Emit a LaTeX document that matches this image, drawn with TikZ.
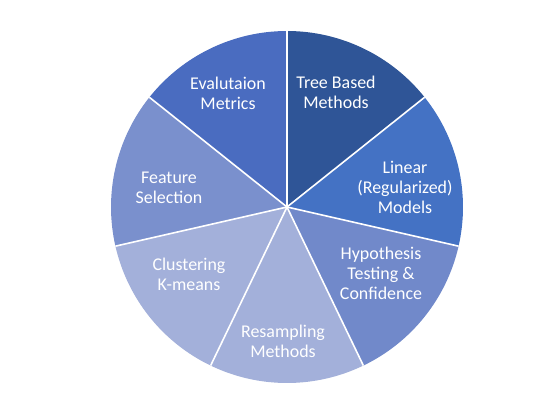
\documentclass[tikz,border=0pt]{standalone}
\usepackage{fontspec}
\setmainfont{Carlito}
\definecolor{cTree}{HTML}{2F5597}
\definecolor{cLin}{HTML}{4472C4}
\definecolor{cHyp}{HTML}{7189CA}
\definecolor{cRes}{HTML}{A3B0DA}
\definecolor{cClu}{HTML}{A3B0DA}
\definecolor{cFea}{HTML}{7A90CD}
\definecolor{cEva}{HTML}{4A6CC0}
\tikzset{
  slice/.style={draw=white, line width=1.6bp, line join=round},
  lbl/.style={text=white, align=center, font=\fontsize{18}{20}\selectfont, inner sep=0pt}
}
\begin{document}
\begin{tikzpicture}[x=1bp,y=1bp]
\useasboundingbox[fill=white] (0,0) rectangle (559,415);
\coordinate (c) at (287,208);
\def\R{176}
\def\st{51.428571}
\foreach \i/\col in {0/cTree,1/cLin,2/cHyp,3/cRes,4/cClu,5/cFea,6/cEva}{
  \pgfmathsetmacro{\a}{90-\i*\st}
  \pgfmathsetmacro{\b}{90-(\i+1)*\st}
  \fill[\col] (c) -- ++(\a:\R) arc[start angle=\a, end angle=\b, radius=\R] -- cycle;
}
\foreach \i in {0,...,6}{
  \pgfmathsetmacro{\a}{90-\i*\st}
  \draw[slice] (c) -- ++(\a:\R);
}
\node[lbl] (tree) at (336,323) {Tree Based\\Methods};
\node[lbl] (lin) at (405,228) {Linear\\(Regularized)\\Models};
\node[lbl] (hyp) at (381,142) {Hypothesis\\Testing \&\\Confidence};
\node[lbl] (res) at (283,74) {Resampling\\Methods};
\node[lbl] (clu) at (189,141) {Clustering\\K-means};
\node[lbl] (fea) at (169,227) {Feature\\Selection};
\node[lbl] (eva) at (228,322) {Evalutaion\\Metrics};
\end{tikzpicture}
\end{document}
